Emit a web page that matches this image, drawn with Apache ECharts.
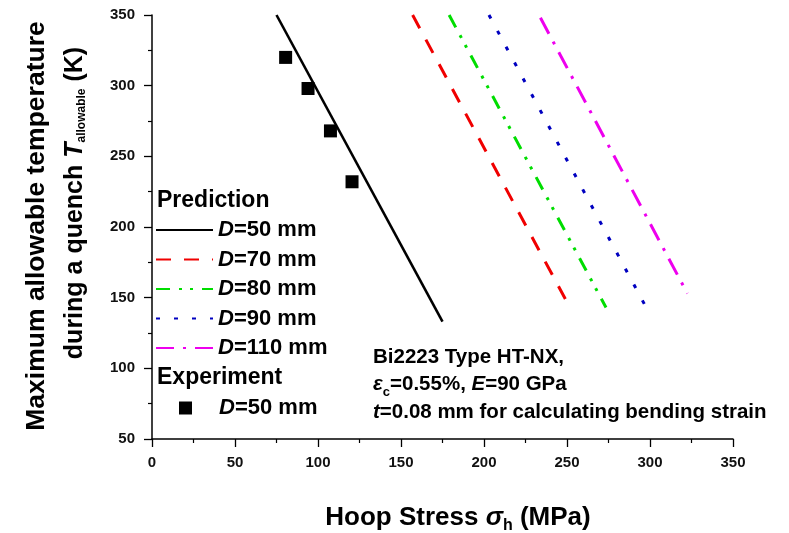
<!DOCTYPE html>
<html><head><meta charset="utf-8">
<script src="https://cdn.jsdelivr.net/npm/echarts@6/dist/echarts.min.js"></script>
<style>html,body{margin:0;padding:0;background:#fff}#c{width:789px;height:533px}</style>
</head><body><div id="c"></div>
<script>
// ---- data ----
const xTicks = [0, 50, 100, 150, 200, 250, 300, 350];
const yTicks = [50, 100, 150, 200, 250, 300, 350];
const predNames = ['D=50 mm', 'D=70 mm', 'D=80 mm', 'D=90 mm', 'D=110 mm'];
const predD50  = [[75, 350], [175, 133]];
const predD70  = [[157, 350], [249, 149]];
const predD80  = [[179, 350], [273.5, 143]];
const predD90  = [[203, 350], [297.5, 143.5]];
const predD110 = [[234, 348], [322.5, 153]];
const expName = 'Exp D=50 mm';
const expD50 = [[80.5, 320], [94, 298], [107.5, 268], [120.5, 232]];

// ---- styles ----
const FF = '"Liberation Sans", Arial, sans-serif';
const predData = [predD50, predD70, predD80, predD90, predD110];
const predColors = ['#000000', '#f00000', '#00dd00', '#0000c0', '#ee00ee'];
const predDash = ['solid', [15, 13], [14, 9, 3, 8, 3, 9], [4, 14], [18, 9, 3, 9]];
const predWidth = [2.6, 3, 3, 3, 3];

const series = predNames.map((n, i) => ({
  name: n, type: 'line', data: predData[i], symbol: 'none', silent: true,
  lineStyle: {color: predColors[i], width: predWidth[i], type: predDash[i]},
  itemStyle: {color: predColors[i]}
}));
series.push({
  name: expName, type: 'scatter', data: expD50, symbol: 'rect', symbolSize: 13,
  itemStyle: {color: '#000', opacity: 1}
});

const legRich = {
  i: {fontFamily: FF, fontWeight: 'bold', fontStyle: 'italic', fontSize: 22, color: '#000'},
  n: {fontFamily: FF, fontWeight: 'bold', fontSize: 22, color: '#000'},
  s: {width: 22}
};

const chart = echarts.init(document.getElementById('c'), null, {renderer: 'canvas'});
chart.setOption({
  animation: false,
  backgroundColor: '#fff',
  grid: {left: 152, right: 56, top: 15, bottom: 94, containLabel: false},
  xAxis: {
    type: 'value', min: xTicks[0], max: xTicks[xTicks.length - 1], interval: 50,
    axisLine: {show: true, onZero: false, lineStyle: {color: '#000', width: 1.5}},
    axisTick: {show: true, inside: false, length: 8, lineStyle: {color: '#000', width: 1.3}},
    minorTick: {show: true, splitNumber: 2, length: 4, lineStyle: {color: '#000', width: 1.2}},
    splitLine: {show: false},
    axisLabel: {color: '#111', fontFamily: FF, fontWeight: 'bold', fontSize: 15, margin: 16}
  },
  yAxis: {
    type: 'value', min: yTicks[0], max: yTicks[yTicks.length - 1], interval: 50,
    axisLine: {show: true, onZero: false, lineStyle: {color: '#000', width: 1.5}},
    axisTick: {show: true, inside: false, length: 8, lineStyle: {color: '#000', width: 1.3}},
    minorTick: {show: true, splitNumber: 2, length: 4, lineStyle: {color: '#000', width: 1.2}},
    splitLine: {show: false},
    axisLabel: {color: '#111', fontFamily: FF, fontWeight: 'bold', fontSize: 15, margin: 17}
  },
  legend: [{
    data: predNames, orient: 'vertical', left: 155, top: 219, padding: 0,
    itemWidth: 57, itemHeight: 14, itemGap: 7.5, selectedMode: false,
    itemStyle: {opacity: 0, borderWidth: 0},
    formatter: n => '{i|' + n[0] + '}{n|' + n.slice(1) + '}',
    textStyle: {rich: legRich}
  }, {
    data: [{name: expName, icon: 'rect'}], orient: 'vertical', left: 179, top: 397, padding: 0,
    itemWidth: 13, itemHeight: 13, selectedMode: false,
    itemStyle: {opacity: 1},
    formatter: () => '{s|}{i|D}{n|=50 mm}',
    textStyle: {rich: legRich}
  }],
  graphic: [
    {type: 'text', left: 157, top: 189, style: {text: 'Prediction', font: 'bold 23px ' + FF, fill: '#000'}},
    {type: 'text', left: 157, top: 366, style: {text: 'Experiment', font: 'bold 23px ' + FF, fill: '#000'}},
    {type: 'text', x: 373, y: 357, style: {text: 'Bi2223 Type HT-NX,', font: 'bold 20.5px ' + FF, fill: '#000', verticalAlign: 'middle'}},
    {type: 'text', x: 373, y: 384, style: {
      text: '{e|ε}{c|c}{n|=0.55%, }{e|E}{n|=90 GPa}', verticalAlign: 'middle',
      rich: {
        e: {font: 'italic bold 20.5px ' + FF, fill: '#000', verticalAlign: 'middle'},
        n: {font: 'bold 20.5px ' + FF, fill: '#000', verticalAlign: 'middle'},
        c: {font: 'bold 13px ' + FF, fill: '#000', verticalAlign: 'top', padding: [12, 0, 0, 0], lineHeight: 16}
      }}},
    {type: 'text', x: 373, y: 412, style: {
      text: '{e|t}{n|=0.08 mm for calculating bending strain}', verticalAlign: 'middle',
      rich: {
        e: {font: 'italic bold 20.5px ' + FF, fill: '#000'},
        n: {font: 'bold 20.5px ' + FF, fill: '#000'}
      }}},
    {type: 'text', x: 458, y: 518, style: {
      text: '{n|Hoop Stress }{e|σ}{c|h}{n| (MPa)}', align: 'center', verticalAlign: 'middle',
      rich: {
        n: {font: 'bold 26px ' + FF, fill: '#000'},
        e: {font: 'italic bold 26px ' + FF, fill: '#000'},
        c: {font: 'bold 16px ' + FF, fill: '#000', padding: [16, 0, 0, 0]}
      }}},
    {type: 'text', x: 37, y: 226, rotation: Math.PI / 2, style: {
      text: 'Maximum allowable temperature', font: 'bold 26.5px ' + FF, fill: '#000',
      align: 'center', verticalAlign: 'middle'}},
    {type: 'text', x: 75, y: 203, rotation: Math.PI / 2, style: {
      text: '{n|during a quench }{e|T}{c|allowable}{n| (K)}', align: 'center', verticalAlign: 'middle',
      rich: {
        n: {font: 'bold 25px ' + FF, fill: '#000'},
        e: {font: 'italic bold 25px ' + FF, fill: '#000'},
        c: {font: 'bold 12px ' + FF, fill: '#000', padding: [14, 0, 0, 0]}
      }}}
  ],
  series: series
});
</script>
</body></html>
